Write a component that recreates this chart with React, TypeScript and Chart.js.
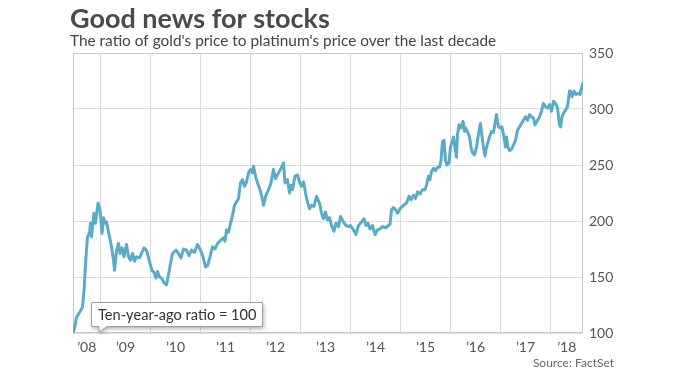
import { useEffect, useRef } from "react";
import { Chart, registerables } from "chart.js";

Chart.register(...registerables);

const title = "Good news for stocks";
const subtitle = "The ratio of gold's price to platinum's price over the last decade";
const sourceNote = "Source: FactSet";
const calloutText = "Ten-year-ago ratio = 100";

// decimal years
const dates = [
  2008.45, 2008.49, 2008.52, 2008.56, 2008.59, 2008.64, 2008.67, 2008.71, 2008.74, 2008.78,
  2008.80, 2008.82, 2008.87, 2008.90, 2008.95, 2008.99, 2009.03, 2009.06, 2009.10, 2009.12,
  2009.18, 2009.22, 2009.26, 2009.28, 2009.32, 2009.36, 2009.39, 2009.43, 2009.47, 2009.52,
  2009.56, 2009.60, 2009.64, 2009.68, 2009.72, 2009.78, 2009.82, 2009.87, 2009.92, 2009.98,
  2010.03, 2010.07, 2010.11, 2010.14, 2010.18, 2010.22, 2010.27, 2010.32, 2010.36, 2010.40,
  2010.44, 2010.51, 2010.56, 2010.61, 2010.66, 2010.72, 2010.77, 2010.82, 2010.88, 2010.94,
  2011.00, 2011.05, 2011.10, 2011.14, 2011.19, 2011.24, 2011.29, 2011.34, 2011.41, 2011.46,
  2011.49, 2011.52, 2011.56, 2011.59, 2011.64, 2011.68, 2011.72, 2011.76, 2011.80, 2011.84,
  2011.88, 2011.92, 2011.96, 2012.00, 2012.04, 2012.06, 2012.10, 2012.14, 2012.19, 2012.24,
  2012.26, 2012.30, 2012.36, 2012.41, 2012.46, 2012.50, 2012.56, 2012.61, 2012.66, 2012.69,
  2012.74, 2012.78, 2012.81, 2012.84, 2012.89, 2012.94, 2012.98, 2013.02, 2013.06, 2013.10,
  2013.14, 2013.18, 2013.22, 2013.27, 2013.32, 2013.38, 2013.42, 2013.46, 2013.50, 2013.54,
  2013.58, 2013.62, 2013.67, 2013.71, 2013.76, 2013.80, 2013.86, 2013.91, 2013.96, 2014.00,
  2014.06, 2014.11, 2014.16, 2014.22, 2014.27, 2014.31, 2014.35, 2014.39, 2014.44, 2014.49,
  2014.54, 2014.59, 2014.64, 2014.70, 2014.76, 2014.79, 2014.82, 2014.86, 2014.90, 2014.94,
  2014.99, 2015.06, 2015.12, 2015.17, 2015.21, 2015.26, 2015.30, 2015.34, 2015.39, 2015.44,
  2015.49, 2015.52, 2015.56, 2015.59, 2015.62, 2015.66, 2015.70, 2015.74, 2015.78, 2015.81,
  2015.84, 2015.87, 2015.90, 2015.93, 2015.97, 2016.00, 2016.04, 2016.06, 2016.09, 2016.12,
  2016.14, 2016.17, 2016.21, 2016.25, 2016.28, 2016.30, 2016.34, 2016.38, 2016.41, 2016.44,
  2016.48, 2016.52, 2016.56, 2016.60, 2016.64, 2016.67, 2016.69, 2016.72, 2016.78, 2016.82,
  2016.86, 2016.89, 2016.92, 2016.96, 2016.99, 2017.03, 2017.07, 2017.10, 2017.12, 2017.15,
  2017.18, 2017.22, 2017.26, 2017.30, 2017.34, 2017.38, 2017.42, 2017.46, 2017.50, 2017.54,
  2017.58, 2017.62, 2017.66, 2017.69, 2017.74, 2017.78, 2017.82, 2017.86, 2017.90, 2017.94,
  2017.98, 2018.02, 2018.06, 2018.10, 2018.14, 2018.18, 2018.20, 2018.23, 2018.26, 2018.30,
  2018.34, 2018.38, 2018.40, 2018.43, 2018.47, 2018.51, 2018.55, 2018.59, 2018.62, 2018.65,
];

// gold / platinum ratio, indexed to 100
const ratio = [
  100, 106, 114, 117, 119, 123, 138, 168, 186, 189,
  198, 186, 207, 198, 216, 210, 189, 203, 198, 199,
  186, 177, 165, 156, 173, 180, 171, 176, 168, 179,
  168, 165, 171, 164, 168, 167, 171, 176, 174, 164,
  156, 154, 149, 155, 150, 149, 145, 143, 152, 162,
  171, 174, 171, 167, 175, 174, 169, 174, 172, 179,
  174, 168, 159, 160, 168, 177, 175, 180, 183, 185,
  182, 192, 190, 196, 205, 214, 217, 220, 234, 237,
  231, 235, 243, 246, 243, 249, 240, 234, 228, 219,
  214, 222, 228, 234, 246, 238, 243, 247, 252, 234,
  237, 225, 232, 228, 240, 241, 235, 231, 235, 225,
  217, 211, 214, 213, 222, 216, 207, 202, 208, 201,
  203, 196, 191, 198, 195, 204, 199, 196, 195, 196,
  192, 188, 196, 199, 202, 196, 198, 193, 196, 188,
  192, 193, 195, 194, 196, 197, 210, 212, 210, 207,
  211, 214, 216, 222, 219, 223, 220, 226, 224, 228,
  228, 232, 240, 237, 244, 247, 245, 248, 248, 254,
  271, 272, 254, 250, 252, 266, 272, 275, 266, 257,
  277, 286, 283, 289, 280, 283, 280, 275, 266, 261,
  259, 266, 278, 287, 272, 263, 258, 266, 275, 280,
  279, 287, 295, 284, 283, 284, 275, 266, 275, 266,
  263, 264, 268, 272, 281, 284, 287, 290, 293, 290,
  295, 293, 292, 286, 290, 293, 298, 305, 302, 301,
  304, 298, 307, 305, 301, 286, 284, 293, 296, 299,
  302, 316, 316, 311, 316, 313, 314, 313, 319, 323,
];

const yTicks = [100, 150, 200, 250, 300, 350];
const gridYears = [2009, 2010, 2011, 2012, 2013, 2014, 2015, 2016, 2017, 2018];

const FONT = "Lato, 'Noto Sans', sans-serif";

export default function App() {
  const ref = useRef<HTMLCanvasElement | null>(null);

  useEffect(() => {
    document.body.style.margin = "0";
    const canvas = ref.current;
    if (!canvas) return;

    const xMin = dates[0];
    const xMax = dates[dates.length - 1];
    // year label positions: centre of each visible year span
    const labelPos: number[] = [];
    const firstYear = Math.floor(xMin);
    const lastYear = Math.floor(xMax);
    for (let y = firstYear; y <= lastYear; y++) {
      const a = Math.max(y, xMin);
      const b = Math.min(y + 1, xMax);
      labelPos.push((a + b) / 2);
    }

    const decor = {
      id: "decor",
      beforeDatasetsDraw(chart: any) {
        const { ctx, chartArea } = chart;
        const xs = chart.scales.x;
        ctx.save();
        // vertical year grid lines
        ctx.strokeStyle = "#dadada";
        ctx.lineWidth = 1;
        for (const yr of gridYears) {
          const px = Math.round(xs.getPixelForValue(yr)) + 0.5;
          ctx.beginPath();
          ctx.moveTo(px, chartArea.top);
          ctx.lineTo(px, chartArea.bottom);
          ctx.stroke();
        }
        // plot frame
        ctx.strokeStyle = "#c9c9c9";
        ctx.strokeRect(
          Math.round(chartArea.left) + 0.5,
          Math.round(chartArea.top) + 0.5,
          Math.round(chartArea.right - chartArea.left) - 1,
          Math.round(chartArea.bottom - chartArea.top) - 1
        );
        ctx.restore();
      },
      afterDraw(chart: any) {
        const { ctx, scales } = chart;
        ctx.save();
        // titles
        ctx.textBaseline = "alphabetic";
        ctx.textAlign = "left";
        ctx.fillStyle = "#4a4a4a";
        ctx.font = `bold 27px ${FONT}`;
        ctx.fillText(title, 70, 28);
        ctx.fillStyle = "#444";
        ctx.font = `15.4px ${FONT}`;
        ctx.fillText(subtitle, 70, 46);
        // source
        ctx.fillStyle = "#666";
        ctx.font = `12px ${FONT}`;
        ctx.textAlign = "right";
        ctx.fillText(sourceNote, 614, 366.5);

        // callout pointing at the starting value
        const tipX = scales.x.getPixelForValue(dates[0]) + 26;
        const tipY = scales.y.getPixelForValue(ratio[0]) - 1;
        const left = tipX - 7.5;
        const bottom = tipY - 5.5;
        const top = bottom - 24;
        const right = left + 171;
        ctx.beginPath();
        ctx.moveTo(left, top);
        ctx.lineTo(right, top);
        ctx.lineTo(right, bottom);
        ctx.lineTo(tipX + 8, bottom);
        ctx.lineTo(tipX, tipY);
        ctx.lineTo(tipX, bottom);
        ctx.lineTo(left, bottom);
        ctx.closePath();
        ctx.shadowColor = "rgba(0,0,0,0.35)";
        ctx.shadowBlur = 4;
        ctx.shadowOffsetX = 1;
        ctx.shadowOffsetY = 2;
        ctx.fillStyle = "#fff";
        ctx.fill();
        ctx.shadowColor = "transparent";
        ctx.strokeStyle = "#a0a0a0";
        ctx.lineWidth = 1;
        ctx.stroke();
        ctx.fillStyle = "#333";
        ctx.font = `14.6px ${FONT}`;
        ctx.textAlign = "left";
        ctx.textBaseline = "middle";
        ctx.fillText(calloutText, left + 6.5, (top + bottom) / 2 + 0.5);
        ctx.restore();
      },
    };

    const chart = new Chart(canvas, {
      type: "line",
      data: {
        datasets: [
          {
            data: dates.map((d, i) => ({ x: d, y: ratio[i] })),
            borderColor: "#5aabc8",
            borderWidth: 3,
            pointRadius: 0,
            tension: 0,
            borderJoinStyle: "round",
            borderCapStyle: "round",
            xAxisID: "x",
            yAxisID: "y",
          },
        ],
      },
      options: {
        animation: false,
        responsive: true,
        maintainAspectRatio: false,
        layout: { padding: { top: 53, left: 73, right: 0, bottom: 0 } },
        plugins: {
          legend: { display: false },
          tooltip: { enabled: false },
          title: { display: false },
        },
        scales: {
          x: {
            type: "linear",
            position: "bottom",
            weight: 0,
            min: xMin,
            max: xMax,
            afterFit: (s: any) => {
              s.height = 0;
            },
            ticks: { display: false },
            grid: { display: false },
            border: { display: false },
          },
          xl: {
            type: "linear",
            position: "bottom",
            weight: 1,
            min: xMin,
            max: xMax,
            afterBuildTicks: (s: any) => {
              s.ticks = labelPos.map((v) => ({ value: v }));
            },
            afterFit: (s: any) => {
              s.height = 50;
            },
            ticks: {
              autoSkip: false,
              maxRotation: 0,
              padding: -2,
              color: "#555",
              font: { family: FONT, size: 14 },
              callback: (v: any) => "\u2019" + String(Math.floor(Number(v))).slice(2),
            },
            grid: { display: false },
            border: { display: false },
          },
          y: {
            type: "linear",
            position: "right",
            min: 100,
            max: 350,
            afterBuildTicks: (s: any) => {
              s.ticks = yTicks.map((v) => ({ value: v }));
            },
            afterFit: (s: any) => {
              s.width = 97;
            },
            ticks: {
              padding: 6,
              color: "#555",
              font: { family: FONT, size: 14 },
              callback: (v: any) => String(v),
            },
            grid: { color: "#dddddd", lineWidth: 1, drawTicks: false },
            border: { display: false },
          },
        },
      },
      plugins: [decor],
    } as any);

    return () => chart.destroy();
  }, []);

  return (
    <div style={{ position: "relative", width: 680, height: 383 }}>
      <canvas ref={ref} />
    </div>
  );
}
